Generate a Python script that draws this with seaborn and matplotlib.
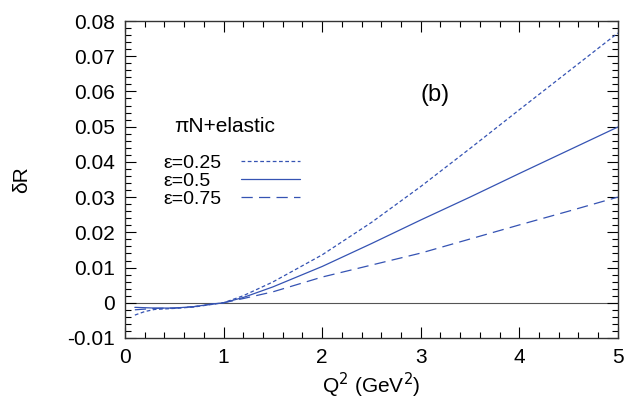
import numpy as np
import pandas as pd
import matplotlib
matplotlib.use("Agg")
import matplotlib.pyplot as plt
import seaborn as sns
from matplotlib.ticker import MultipleLocator
from matplotlib.offsetbox import DrawingArea

# -------------------------------
# Data
# -------------------------------
q2 = [0.1, 0.2, 0.3, 0.5, 0.7, 0.9, 1.0, 1.2, 1.5, 2.0, 2.5, 3.0, 3.5, 4.0, 4.5, 5.0]
dr_eps025 = [-0.0035, -0.0025, -0.0019, -0.0016, -0.0012, -0.0004, 0.0, 0.0020, 0.0059,
             0.0136, 0.0228, 0.0330, 0.0438, 0.0548, 0.0657, 0.0766]
dr_eps050 = [-0.0013, -0.0014, -0.0015, -0.0015, -0.0011, -0.0003, 0.0, 0.0015, 0.0045,
             0.0103, 0.0168, 0.0235, 0.0300, 0.0367, 0.0433, 0.0499]
dr_eps075 = [-0.0020, -0.0018, -0.0016, -0.0015, -0.0011, -0.0003, 0.0, 0.0012, 0.0031,
             0.0073, 0.0107, 0.0141, 0.0181, 0.0221, 0.0260, 0.0300]
labels = ["ε=0.25", "ε=0.5", "ε=0.75"]

sns.set_style("ticks")
plt.rcParams["font.family"] = ["Liberation Sans", "DejaVu Sans"]
plt.rcParams["text.color"] = "black"
plt.rcParams["axes.labelcolor"] = "black"
plt.rcParams["xtick.color"] = "black"
plt.rcParams["ytick.color"] = "black"

fig = plt.figure(figsize=(6.36, 4.04), dpi=100)
ax = fig.add_axes([0.1965, 0.1634, 0.775, 0.7846])

blue = "#3553b3"
dashes = [(3, 2), (None, None), (9, 5)]
for vals, lab, ds in zip([dr_eps025, dr_eps050, dr_eps075], labels, dashes):
    df = pd.DataFrame({"Q2": q2, "dR": vals})
    sns.lineplot(data=df, x="Q2", y="dR", ax=ax, color=blue, lw=0.9, label=lab)
    if ds[0] is not None:
        ax.lines[-1].set_dashes(ds)

ax.axhline(0, color="#555555", lw=0.8, zorder=0)

ax.set_xlim(0, 5)
ax.set_ylim(-0.01, 0.08)
ax.xaxis.set_major_locator(MultipleLocator(1))
ax.xaxis.set_minor_locator(MultipleLocator(0.2))
ax.yaxis.set_major_locator(MultipleLocator(0.01))
ax.yaxis.set_minor_locator(MultipleLocator(0.002))
ax.set_xticklabels([f"{v:g}" for v in ax.get_xticks()])
ax.set_yticklabels(["0" if abs(v) < 1e-9 else f"{v:.2f}" for v in ax.get_yticks()])
ax.tick_params(which="both", direction="in", top=True, right=True, labelsize=15, width=0.8)
ax.tick_params(which="major", length=8, pad=7)
ax.tick_params(which="minor", length=4.5)
for s in ax.spines.values():
    s.set_linewidth(1.0)
    s.set_color("#333333")

ax.set_xlabel("Q$^2$ (GeV$^2$)", fontsize=15, labelpad=3)
ax.set_ylabel("δR", fontsize=15, labelpad=26)
ax.text(0.60, 0.767, "(b)", transform=ax.transAxes, fontsize=17, va="center")
ax.text(0.203, 0.666, "πN+elastic", transform=ax.transAxes, fontsize=15,
        ha="center", va="center")

leg = ax.legend(frameon=False, markerfirst=False, fontsize=14,
                handlelength=3.0, handletextpad=0.72, labelspacing=0.02,
                borderpad=0, borderaxespad=0, loc="upper left",
                bbox_to_anchor=(0.077, 0.58))

# labels left-aligned with the lines lined up on the right:
# pad the shorter labels with an empty spacer
renderer = fig.canvas.get_renderer()
widths = [t.get_window_extent(renderer).width for t in leg.get_texts()]
maxw = max(widths)
rows = []
for col in leg._legend_handle_box.get_children():
    rows.extend(col.get_children())
for row, w in zip(rows, widths):
    pad = (maxw - w) * 72 / fig.dpi
    if pad > 0.1:
        row.get_children().insert(1, DrawingArea(pad, 1))
    row.sep = 0
# text-to-line gap (sep was zeroed above)
for row in rows:
    row.get_children().insert(-1, DrawingArea(14.5, 1))

fig.savefig("out.png", dpi=100)
